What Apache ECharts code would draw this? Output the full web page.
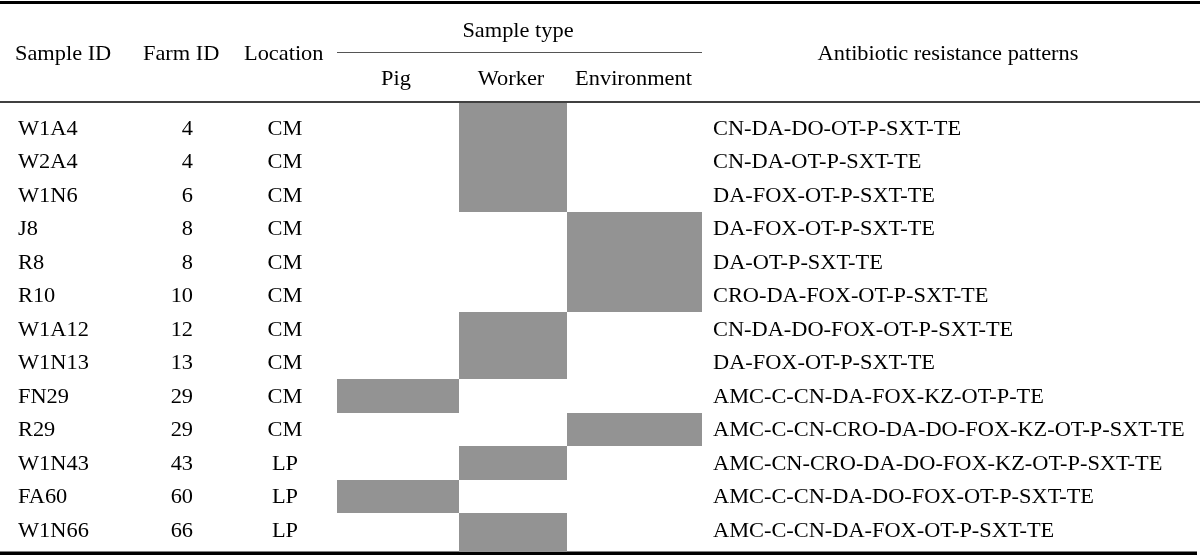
<!DOCTYPE html>
<html>
<head>
<meta charset="utf-8">
<script src="https://cdn.jsdelivr.net/npm/echarts@6/dist/echarts.min.js"></script>
<style>html,body{margin:0;padding:0;background:#fff}#c{width:1200px;height:559px}</style>
</head>
<body>
<div id="c"></div>
<script>
// ---- data ----
const sampleIds = ['W1A4','W2A4','W1N6','J8','R8','R10','W1A12','W1N13','FN29','R29','W1N43','FA60','W1N66'];
const farmIds = [4,4,6,8,8,10,12,13,29,29,43,60,66];
const locations = ['CM','CM','CM','CM','CM','CM','CM','CM','CM','CM','LP','LP','LP'];
const sampleTypes = ['Pig','Worker','Environment'];
const rowSampleType = ['Worker','Worker','Worker','Environment','Environment','Environment','Worker','Worker','Pig','Environment','Worker','Pig','Worker'];
const patterns = [
  'CN-DA-DO-OT-P-SXT-TE',
  'CN-DA-OT-P-SXT-TE',
  'DA-FOX-OT-P-SXT-TE',
  'DA-FOX-OT-P-SXT-TE',
  'DA-OT-P-SXT-TE',
  'CRO-DA-FOX-OT-P-SXT-TE',
  'CN-DA-DO-FOX-OT-P-SXT-TE',
  'DA-FOX-OT-P-SXT-TE',
  'AMC-C-CN-DA-FOX-KZ-OT-P-TE',
  'AMC-C-CN-CRO-DA-DO-FOX-KZ-OT-P-SXT-TE',
  'AMC-CN-CRO-DA-DO-FOX-KZ-OT-P-SXT-TE',
  'AMC-C-CN-DA-DO-FOX-OT-P-SXT-TE',
  'AMC-C-CN-DA-FOX-OT-P-SXT-TE'
];
const headers = ['Sample ID','Farm ID','Location','Sample type','Antibiotic resistance patterns'];

// ---- layout (not data) ----
const FONT = '"Liberation Serif","Times New Roman",serif';
const FS = 21;
const SX = 1.065;
const TY = 1.5;
const TYPE_EDGES = [337, 459, 567, 702];
const GRID_TOP = 111, GRID_H = 435.5;
const HEADER_RULE = 102, BOTTOM_RULE = 553.3;
const GRAY = '#939393';

const cellData = rowSampleType.map((t, i) => [sampleTypes.indexOf(t), i]);
const rowData = sampleIds.map((s, i) => [0, i]);

function txt(x, y, s, align) {
  return {type: 'text', x: x, y: y + TY, scaleX: SX, originX: 0,
    style: {text: s, x: 0, y: 0, font: FS + 'px ' + FONT, fill: '#000', align: align, verticalAlign: 'middle'}};
}

const chart = echarts.init(document.getElementById('c'), null, {renderer: 'canvas'});
chart.setOption({
  animation: false,
  backgroundColor: '#fff',
  grid: {left: 0, right: 0, top: GRID_TOP, height: GRID_H},
  xAxis: {type: 'value', min: 0, max: 1200, show: false},
  yAxis: {type: 'category', data: sampleIds, inverse: true, show: false},
  series: [
    {
      type: 'custom', name: 'cells', data: cellData, encode: {x: 0, y: 1},
      renderItem: function (params, api) {
        const t = api.value(0), r = api.value(1);
        const bh = api.size([0, 1])[1];
        const p0 = api.coord([TYPE_EDGES[t], r]);
        const p1 = api.coord([TYPE_EDGES[t + 1], r]);
        let top = Math.round(p0[1] - bh / 2), bot = Math.round(p0[1] + bh / 2);
        if (r === 0) top = HEADER_RULE + 1;
        if (r === sampleIds.length - 1) bot = Math.round(BOTTOM_RULE - 1.5);
        const x0 = Math.round(p0[0]), x1 = Math.round(p1[0]);
        return {type: 'rect', shape: {x: x0, y: top, width: x1 - x0, height: bot - top},
          style: {fill: GRAY}};
      }
    },
    {
      type: 'custom', name: 'rows', data: rowData, encode: {x: 0, y: 1},
      renderItem: function (params, api) {
        const r = api.value(1);
        const y = api.coord([0, r])[1];
        const xs = x => api.coord([x, r])[0];
        return {type: 'group', children: [
          txt(xs(18), y, sampleIds[r], 'left'),
          txt(xs(193), y, String(farmIds[r]), 'right'),
          txt(xs(285), y, locations[r], 'center'),
          txt(xs(713), y, patterns[r], 'left')
        ]};
      }
    }
  ],
  graphic: [
    {type: 'line', shape: {x1: 0, y1: 2.5, x2: 1200, y2: 2.5}, style: {stroke: '#000', lineWidth: 3}},
    {type: 'line', shape: {x1: 0, y1: HEADER_RULE, x2: 1200, y2: HEADER_RULE}, style: {stroke: '#000', lineWidth: 1.3}},
    {type: 'line', shape: {x1: 337, y1: 52.5, x2: 702, y2: 52.5}, style: {stroke: '#555', lineWidth: 1}},
    {type: 'line', shape: {x1: 0, y1: BOTTOM_RULE, x2: 1197, y2: BOTTOM_RULE}, style: {stroke: '#000', lineWidth: 3.5}},
    txt(15, 53, headers[0], 'left'),
    txt(143, 53, headers[1], 'left'),
    txt(244, 53, headers[2], 'left'),
    txt(518, 30, headers[3], 'center'),
    txt(396, 78, sampleTypes[0], 'center'),
    txt(511, 78, sampleTypes[1], 'center'),
    txt(633.5, 78, sampleTypes[2], 'center'),
    txt(948, 53, headers[4], 'center')
  ]
});
</script>
</body>
</html>
